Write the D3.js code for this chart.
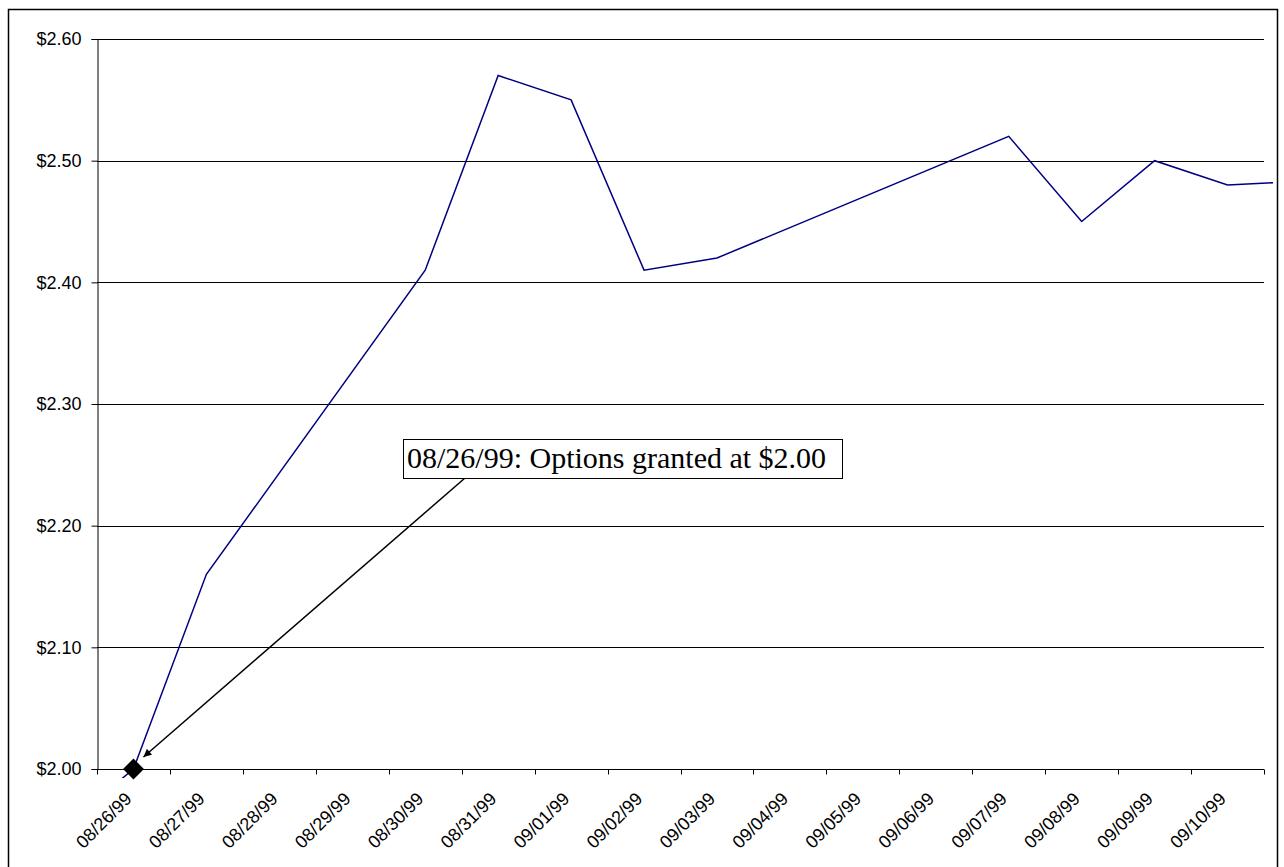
<!DOCTYPE html>
<html>
<head>
<meta charset="utf-8">
<script src="https://cdn.jsdelivr.net/npm/d3@7"></script>
<style>
  body { margin: 0; background: #fff; }
  svg text { font-family: "Liberation Sans", Arial, sans-serif; }
</style>
</head>
<body>
<div id="chart"></div>
<script>
// dates shown on the category axis
var dates = ["08/26/99", "08/27/99", "08/28/99", "08/29/99", "08/30/99", "08/31/99",
    "09/01/99", "09/02/99", "09/03/99", "09/04/99", "09/05/99", "09/06/99",
    "09/07/99", "09/08/99", "09/09/99", "09/10/99"];

// closing prices (null = no trading that day), plus the points either side of the shown range
var priceDates = ["08/25/99", "08/26/99", "08/27/99", "08/28/99", "08/29/99", "08/30/99", "08/31/99",
    "09/01/99", "09/02/99", "09/03/99", "09/04/99", "09/05/99", "09/06/99",
    "09/07/99", "09/08/99", "09/09/99", "09/10/99", "09/11/99"];
var prices = [1.95, 2.00, 2.16, null, null, 2.41, 2.57,
    2.55, 2.41, 2.42, null, null, null,
    2.52, 2.45, 2.50, 2.48, 2.483];

var yTicks = [2.00, 2.10, 2.20, 2.30, 2.40, 2.50, 2.60];

var grantDate = "08/26/99";
var grantPrice = 2.00;
var noteText = "08/26/99: Options granted at $2.00";

var W = 1284, H = 867;
var margin = { top: 39, right: 20, bottom: 98, left: 97 };
var width = 1264 - margin.left,
    height = 769 - margin.top;

var svg = d3.select("#chart").append("svg")
    .attr("width", W)
    .attr("height", H);

// chart area border
svg.append("rect")
    .attr("x", 8.5).attr("y", 9.5)
    .attr("width", 1269).attr("height", 900)
    .attr("fill", "none")
    .attr("stroke", "#000")
    .attr("stroke-width", 1.5);

var g = svg.append("g")
    .attr("transform", "translate(" + margin.left + "," + margin.top + ")");

var x = d3.scaleBand().domain(dates).range([0, width]);
var step = x.step();
// index position helper so points outside the shown range still line up
var xPos = function(d) {
    return x(dates[0]) + (priceDates.indexOf(d) - 1) * step + step / 2;
};

var y = d3.scaleLinear().domain([2.00, 2.60]).range([height, 0]);

// gridlines
g.append("g")
    .selectAll("line")
    .data(yTicks.slice(1))
    .enter().append("line")
    .attr("x1", 0).attr("x2", width)
    .attr("y1", function(d) { return Math.round(y(d)) + 0.5; })
    .attr("y2", function(d) { return Math.round(y(d)) + 0.5; })
    .attr("stroke", "#000")
    .attr("stroke-width", 1);

// y axis
var yAxis = g.append("g")
    .attr("transform", "translate(0.5,0)")
    .call(d3.axisLeft(y).tickValues(yTicks).tickSize(6).tickPadding(10)
        .tickFormat(function(d) { return "$" + d.toFixed(2); }));
yAxis.selectAll("text").attr("font-size", 18).attr("fill", "#000")
    .style("font-family", "'Liberation Sans', Arial, sans-serif");
yAxis.selectAll("line, path").attr("stroke", "#000");

// x axis, ticks on category boundaries
var xAxis = g.append("g").attr("transform", "translate(0," + (height + 0.5) + ")");
xAxis.append("line")
    .attr("x1", 0).attr("x2", width)
    .attr("stroke", "#000");
xAxis.selectAll(".tick")
    .data(d3.range(dates.length + 1))
    .enter().append("line")
    .attr("class", "tick")
    .attr("x1", function(i) { return Math.round(i * step) + 0.5; })
    .attr("x2", function(i) { return Math.round(i * step) + 0.5; })
    .attr("y1", 0).attr("y2", 5)
    .attr("stroke", "#000");
xAxis.selectAll(".lbl")
    .data(dates)
    .enter().append("text")
    .attr("class", "lbl")
    .attr("transform", function(d) {
        return "translate(" + (x(d) + step / 2 - 5) + ",26) rotate(-45)";
    })
    .attr("text-anchor", "end")
    .attr("dy", "0.35em")
    .attr("font-size", 18)
    .attr("fill", "#000")
    .text(function(d) { return d; });

// clip slightly past the plot like the original
svg.append("clipPath").attr("id", "clip")
    .append("rect")
    .attr("x", -20).attr("y", -5)
    .attr("width", width + 9 + 20).attr("height", height + 14);

var series = priceDates.map(function(d, i) {
    return { date: d, value: prices[i] };
}).filter(function(d) { return d.value !== null; });

var line = d3.line()
    .x(function(d) { return xPos(d.date); })
    .y(function(d) { return y(d.value); });

g.append("path")
    .datum(series)
    .attr("clip-path", "url(#clip)")
    .attr("d", line)
    .attr("fill", "none")
    .attr("stroke", "#000080")
    .attr("stroke-width", 1.5);

// grant marker
var gx = xPos(grantDate), gy = y(grantPrice);
g.append("path")
    .attr("d", d3.symbol().type(d3.symbolSquare).size(220)())
    .attr("transform", "translate(" + gx + "," + gy + ") rotate(45)")
    .attr("fill", "#000");

// annotation
svg.append("defs").append("marker")
    .attr("id", "arrow")
    .attr("viewBox", "0 0 10 10")
    .attr("refX", 10).attr("refY", 5)
    .attr("markerWidth", 10).attr("markerHeight", 8)
    .attr("markerUnits", "userSpaceOnUse")
    .attr("orient", "auto")
    .append("path")
    .attr("d", "M0,0 L10,5 L0,10 z")
    .attr("fill", "#000");

var boxX = 403 - margin.left, boxY = 439 - margin.top;
g.append("line")
    .attr("x1", 465 - margin.left).attr("y1", boxY + 39)
    .attr("x2", gx + 10).attr("y2", gy - 12)
    .attr("stroke", "#000")
    .attr("stroke-width", 1.5)
    .attr("marker-end", "url(#arrow)");

var note = g.append("g").attr("transform", "translate(" + boxX + "," + boxY + ")");
note.append("rect")
    .attr("x", 0.5).attr("y", 0.5)
    .attr("width", 439).attr("height", 39)
    .attr("fill", "#fff")
    .attr("stroke", "#000");
note.append("text")
    .attr("x", 4).attr("y", 29)
    .attr("font-size", 30)
    .style("font-family", "'Liberation Serif', 'Times New Roman', serif")
    .attr("fill", "#000")
    .text(noteText);
</script>
</body>
</html>
